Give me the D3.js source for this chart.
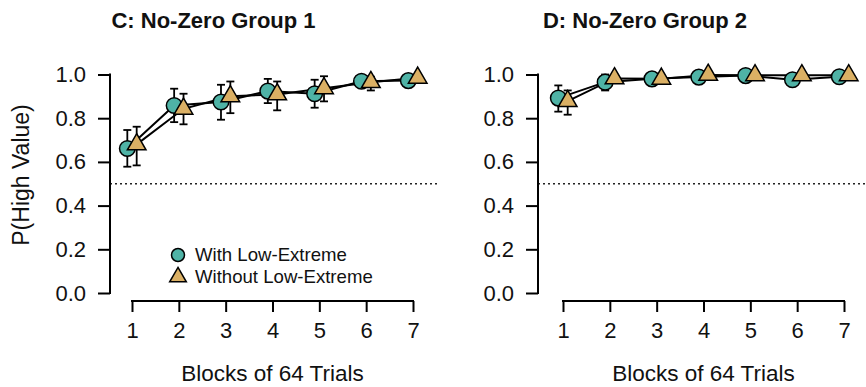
<!DOCTYPE html>
<html><head><meta charset="utf-8">
<script src="https://cdn.jsdelivr.net/npm/d3@7"></script>
<style>body{margin:0;background:#fff}svg{display:block}text{font-family:"Liberation Sans",Arial,sans-serif}</style>
</head><body><svg id="c" width="866" height="387"></svg>
<script>
const blocks = [1,2,3,4,5,6,7];
const yTicks = [0,0.2,0.4,0.6,0.8,1.0];
const panelTitles = ["C: No-Zero Group 1","D: No-Zero Group 2"];
const seriesNames = ["With Low-Extreme","Without Low-Extreme"];
// Panel C
const cWith = [0.661,0.858,0.874,0.924,0.912,0.969,0.972];
const cWithLo = [0.578,0.782,0.793,0.869,0.848,0.950,0.962];
const cWithHi = [0.746,0.935,0.953,0.980,0.976,0.988,0.982];
const cWo = [0.680,0.843,0.900,0.909,0.937,0.965,0.985];
const cWoLo = [0.584,0.772,0.823,0.836,0.877,0.927,0.978];
const cWoHi = [0.761,0.912,0.968,0.968,0.992,0.990,0.992];
// Panel D
const dWith = [0.892,0.965,0.980,0.988,0.995,0.976,0.990];
const dWithLo = [0.830,0.927,0.970,0.982,0.990,0.966,0.984];
const dWithHi = [0.950,1.000,0.990,0.994,1.000,0.986,0.996];
const dWo = [0.878,0.982,0.980,0.998,0.996,0.996,0.996];
const dWoLo = [0.816,0.962,0.972,0.994,0.990,0.990,0.990];
const dWoHi = [0.927,0.996,0.988,1.000,1.000,1.000,1.000];

const colWith = "#4fb3a6", colWo = "#dbb064";
const svg = d3.select("#c");
const panels = [
  {x0:132, x7:413, axisX:110, dotStart:110, dotEnd:438, title:panelTitles[0], titleX:213.5, legend:true,
   s:[{v:cWith,lo:cWithLo,hi:cWithHi,shape:"c"},{v:cWo,lo:cWoLo,hi:cWoHi,shape:"t"}]},
  {x0:563, x7:844, axisX:538, dotStart:538, dotEnd:866, title:panelTitles[1], titleX:645, legend:false,
   s:[{v:dWith,lo:dWithLo,hi:dWithHi,shape:"c"},{v:dWo,lo:dWoLo,hi:dWoHi,shape:"t"}]}
];
const y = d3.scaleLinear().domain([0,1]).range([293,74.5]);
const off = 0.1;
const triPath = d3.symbol().type(d3.symbolTriangle).size(150)();

panels.forEach((p,pi)=>{
  const x = d3.scaleLinear().domain([1,7]).range([p.x0,p.x7]);
  const g = svg.append("g");
  g.append("line").attr("x1",p.dotStart).attr("x2",p.dotEnd).attr("y1",y(0.5)).attr("y2",y(0.5))
    .attr("stroke","#222").attr("stroke-width",1.3).attr("stroke-dasharray","2,3");
  const ya = g.append("g").attr("transform",`translate(${p.axisX},0)`)
    .call(d3.axisLeft(y).tickValues(yTicks).tickFormat(d3.format(".1f")).tickSize(12).tickPadding(12));
  const xa = g.append("g").attr("transform",`translate(0,301)`)
    .call(d3.axisBottom(x).tickValues(blocks).tickFormat(d3.format("d")).tickSize(11).tickPadding(10));
  [ya,xa].forEach(a=>{
    a.select(".domain").remove();
    a.selectAll("line").attr("stroke","#000").attr("stroke-width",2);
    a.selectAll("text").attr("font-size",22).attr("fill","#111");
  });
  ya.append("line").attr("x1",0).attr("x2",0).attr("y1",y(0)).attr("y2",y(1)).attr("stroke","#000").attr("stroke-width",2).attr("stroke-linecap","square");
  xa.append("line").attr("x1",x(1)).attr("x2",x(7)).attr("y1",0).attr("y2",0).attr("stroke","#000").attr("stroke-width",2).attr("stroke-linecap","square");
  g.append("text").attr("x",p.titleX).attr("y",28).attr("text-anchor","middle").attr("font-size",22).attr("font-weight","bold").attr("fill","#111").text(p.title);
  g.append("text").attr("x",(p.x0+p.x7)/2).attr("y",381).attr("text-anchor","middle").attr("font-size",22.5).attr("fill","#111").text("Blocks of 64 Trials");
  if(pi===0){
    g.append("text").attr("transform","translate(29,175) rotate(-90)").attr("text-anchor","middle").attr("font-size",23).attr("fill","#111").text("P(High Value)");
  }
  p.s.forEach((s,si)=>{
    const dx = si===0 ? -off : off;
    const line = d3.line().x((d,i)=>x(blocks[i]+dx)).y(d=>y(d));
    g.append("path").attr("d",line(s.v)).attr("fill","none").attr("stroke","#000").attr("stroke-width",2);
    blocks.forEach((b,i)=>{
      const cx = x(b+dx);
      g.append("line").attr("x1",cx).attr("x2",cx).attr("y1",y(s.lo[i])).attr("y2",y(s.hi[i])).attr("stroke","#000").attr("stroke-width",1.8);
      [s.lo[i],s.hi[i]].forEach(v=>g.append("line").attr("x1",cx-4).attr("x2",cx+4).attr("y1",y(v)).attr("y2",y(v)).attr("stroke","#000").attr("stroke-width",1.8));
    });
  });
  p.s.forEach((s,si)=>{
    const dx = si===0 ? -off : off;
    blocks.forEach((b,i)=>{
      const cx = x(b+dx), cy = y(s.v[i]);
      if(s.shape==="c"){
        g.append("circle").attr("cx",cx).attr("cy",cy).attr("r",7.8).attr("fill",colWith).attr("stroke","#000").attr("stroke-width",1.5);
      } else {
        g.append("path").attr("d",triPath).attr("transform",`translate(${cx},${cy})`).attr("fill",colWo).attr("stroke","#000").attr("stroke-width",1.5);
      }
    });
  });
  if(p.legend){
    const lg = g.append("g");
    lg.append("circle").attr("cx",178).attr("cy",255).attr("r",6.5).attr("fill",colWith).attr("stroke","#000").attr("stroke-width",1.5);
    lg.append("path").attr("d",d3.symbol().type(d3.symbolTriangle).size(120)()).attr("transform","translate(178,277)").attr("fill",colWo).attr("stroke","#000").attr("stroke-width",1.5);
    lg.append("text").attr("x",195).attr("y",261).attr("font-size",18.6).attr("fill","#111").text(seriesNames[0]);
    lg.append("text").attr("x",195).attr("y",283).attr("font-size",18.6).attr("fill","#111").text(seriesNames[1]);
  }
});
</script></body></html>
